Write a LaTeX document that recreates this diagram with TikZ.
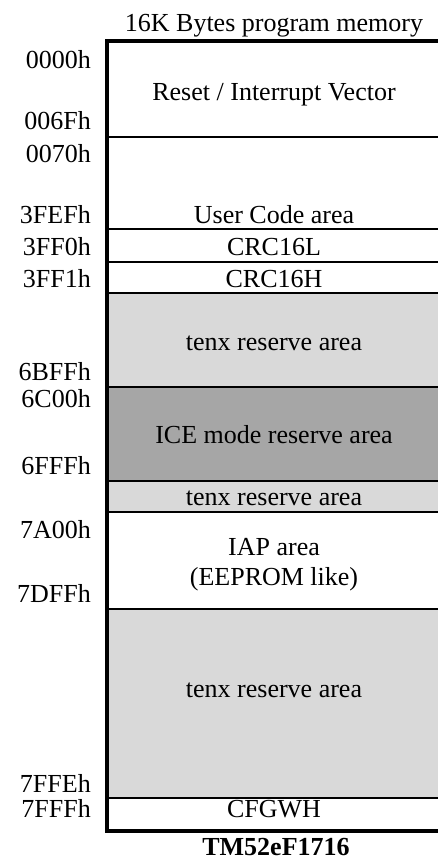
\documentclass[tikz,border=0pt]{standalone}
\usepackage{fontspec}
\setmainfont{Liberation Serif}
\definecolor{lightg}{RGB}{217,217,217}
\definecolor{darkg}{RGB}{166,166,166}
\begin{document}
\begin{tikzpicture}[x=1pt,y=-1pt,
  every node/.style={inner sep=0pt,font=\fontsize{26}{30}\selectfont},
  addr/.style={anchor=base east},
  area/.style={anchor=base},
  thin/.style={line width=2pt},
  thick/.style={line width=4pt}]
\useasboundingbox (0,0) rectangle (437,859);
% fills
\fill[lightg] (107,293.3) rectangle (445,386.7);
\fill[darkg] (107,386.7) rectangle (445,481);
\fill[lightg] (107,481) rectangle (445,512.3);
\fill[lightg] (107,609.3) rectangle (445,798.3);
% divider lines
\foreach \yy in {136.7,229.3,262.3,293.3,386.7,481,512.3,609.3,798.3}
  \draw[thin] (107,\yy) -- (445,\yy);
% outer box
\draw[thick] (445,41.5) -- (107,41.5) -- (107,831) -- (445,831);
% title
\node[area] (title) at (274,32) {16K Bytes program memory};
% addresses
\def\ax{91}
\node[addr] (a0) at (\ax,68) {0000h};
\node[addr] (a1) at (\ax,129) {006Fh};
\node[addr] (a2) at (\ax,162) {0070h};
\node[addr] (a3) at (\ax,223) {3FEFh};
\node[addr] (a4) at (\ax,255) {3FF0h};
\node[addr] (a5) at (\ax,287) {3FF1h};
\node[addr] (a6) at (\ax,380) {6BFFh};
\node[addr] (a7) at (\ax,407) {6C00h};
\node[addr] (a8) at (\ax,474) {6FFFh};
\node[addr] (a9) at (\ax,538) {7A00h};
\node[addr] (a10) at (\ax,602) {7DFFh};
\node[addr] (a11) at (\ax,792) {7FFEh};
\node[addr] (a12) at (\ax,817) {7FFFh};
% areas
\def\cx{274}
\node[area] (r0) at (\cx,100) {Reset / Interrupt Vector};
\node[area] (r1) at (\cx,223) {User Code area};
\node[area] (r2) at (\cx,255) {CRC16L};
\node[area] (r3) at (\cx,287) {CRC16H};
\node[area] (r4) at (\cx,350) {tenx reserve area};
\node[area] (r5) at (\cx,443) {ICE mode reserve area};
\node[area] (r6) at (\cx,505) {tenx reserve area};
\node[area] (r7) at (\cx,555) {IAP area};
\node[area] (r8) at (\cx,585) {(EEPROM like)};
\node[area] (r9) at (\cx,697) {tenx reserve area};
\node[area] (r10) at (\cx,817) {CFGWH};
\node[area,text depth=0pt,font=\fontsize{26}{30}\selectfont\bfseries] (chip) at (276,855) {TM52eF1716};
\end{tikzpicture}
\end{document}
